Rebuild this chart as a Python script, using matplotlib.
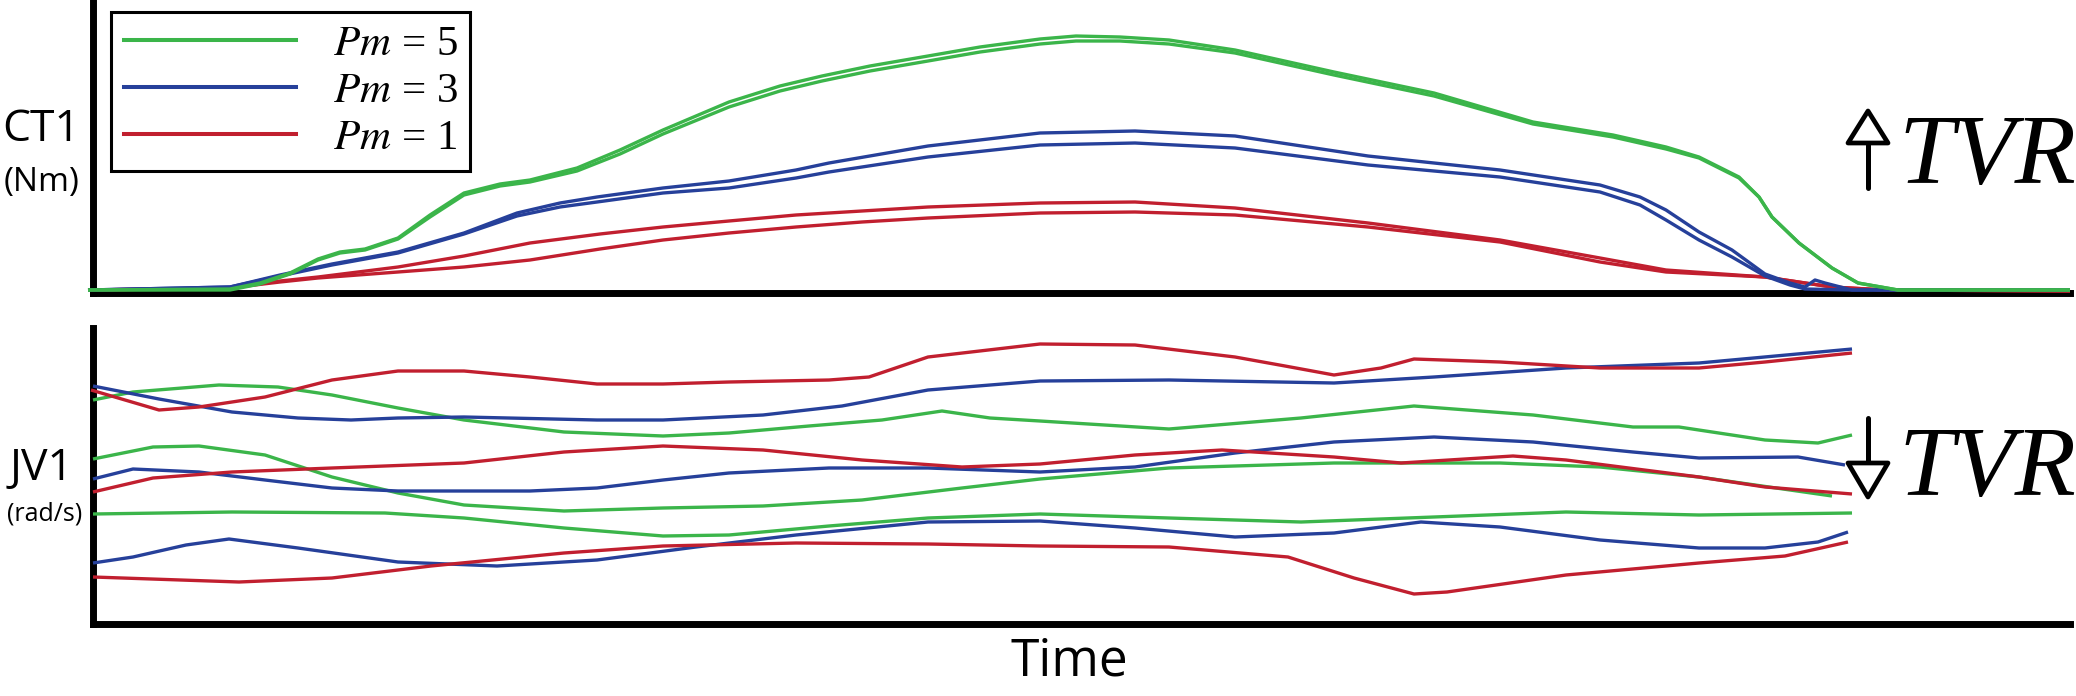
import matplotlib
matplotlib.use('Agg')
import matplotlib.pyplot as plt
from matplotlib.patches import Polygon
from matplotlib.lines import Line2D

plt.rcParams['font.family'] = ['Open Sans', 'DejaVu Sans']
plt.rcParams['mathtext.fontset'] = 'stix'

GREEN = '#3BB54A'
BLUE = '#26409A'
RED = '#C11F2F'

# ---------------- CT1 (top panel) ----------------
ct1_pm5_t = [-5, 137, 167, 197, 225, 247, 272, 305, 337, 371, 407, 437, 484, 527, 570, 636, 687, 729, 777, 835,
             887, 947, 983, 1027, 1076, 1142, 1241, 1341, 1440, 1520, 1573, 1606, 1646, 1666, 1679, 1706, 1739,
             1765, 1805, 1977]
ct1_pm5_a = [3, 4, 10, 20, 34, 41, 44, 55, 78, 100, 109, 113, 125, 143, 163, 191, 207, 217, 227, 237,
             246, 254, 257, 256, 253, 243, 221, 200, 171, 158, 146, 136, 116, 96, 76, 50, 25, 10, 3, 3]
ct1_pm5_b = [3, 3, 9, 19, 33, 40, 43, 54, 76, 98, 107, 111, 122, 139, 159, 186, 202, 212, 222, 232,
             241, 249, 252, 252, 249, 240, 218, 197, 169, 156, 144, 135, 115, 96, 76, 50, 25, 10, 3, 3]

ct1_pm3_a_t = [-5, 137, 187, 239, 305, 371, 424, 467, 504, 570, 636, 703, 736, 835, 947, 1042, 1142, 1275, 1407,
               1507, 1547, 1573, 1606, 1639, 1672, 1697, 1712, 1722, 1732, 1759, 1977]
ct1_pm3_a = [3, 6, 18, 29, 41, 60, 80, 90, 96, 105, 112, 123, 130, 147, 160, 162, 157, 137, 123, 108,
             96, 83, 61, 43, 19, 10, 6, 13, 10, 3, 3]
ct1_pm3_b_t = [-5, 137, 187, 239, 305, 371, 424, 467, 504, 570, 636, 703, 736, 835, 947, 1042, 1142, 1275, 1407,
               1507, 1547, 1573, 1606, 1639, 1672, 1697, 1712, 1759, 1977]
ct1_pm3_b = [3, 6, 17, 28, 40, 59, 77, 86, 91, 100, 105, 115, 121, 136, 148, 150, 145, 128, 116, 101,
             88, 73, 53, 36, 17, 8, 4, 3, 3]

ct1_pm1_t = [-5, 137, 187, 225, 305, 371, 437, 507, 570, 636, 703, 769, 835, 947, 1042, 1142, 1275, 1407, 1507,
             1573, 1672, 1739, 1792, 1977]
ct1_pm1_a = [3, 5, 12, 16, 26, 37, 50, 59, 66, 72, 78, 82, 86, 90, 91, 85, 70, 53, 35, 23, 16, 6, 3, 2]
ct1_pm1_b = [3, 5, 11, 15, 21, 26, 33, 44, 53, 60, 66, 71, 75, 80, 81, 78, 66, 51, 31, 21, 16, 6, 3, 2]

# ---------------- JV1 (bottom panel) ----------------
jv1_pm5_a_t = [0, 40, 126, 185, 239, 305, 371, 471, 570, 636, 716, 789, 849, 897, 947, 1076, 1208, 1321, 1440,
               1540, 1586, 1672, 1725, 1759]
jv1_pm5_a = [224, 232, 239, 237, 229, 216, 204, 192, 188, 191, 198, 204, 213, 206, 203, 195, 206, 218, 209,
             197, 197, 184, 181, 189]
jv1_pm3_a_t = [0, 66, 139, 205, 258, 305, 371, 504, 570, 670, 749, 835, 947, 1076, 1241, 1341, 1473, 1606, 1759]
jv1_pm3_a = [238, 225, 212, 206, 204, 206, 207, 204, 204, 209, 218, 234, 243, 244, 241, 247, 256, 261, 275]
jv1_pm1_a_t = [-2, 66, 106, 172, 239, 305, 371, 437, 504, 570, 636, 736, 776, 835, 947, 1042, 1142, 1192, 1241,
               1288, 1321, 1407, 1507, 1606, 1672, 1759]
jv1_pm1_a = [234, 214, 217, 227, 244, 253, 253, 247, 240, 240, 242, 244, 247, 267, 280, 279, 267, 258, 249,
             256, 265, 262, 256, 256, 262, 271]

jv1_pm5_b_t = [0, 60, 106, 172, 239, 305, 371, 471, 570, 670, 769, 869, 947, 1076, 1241, 1407, 1507, 1606, 1739]
jv1_pm5_b = [165, 177, 178, 169, 147, 131, 119, 113, 116, 118, 124, 136, 145, 156, 161, 161, 157, 147, 128]
jv1_pm3_b_t = [0, 40, 106, 172, 239, 305, 437, 504, 570, 636, 736, 835, 947, 1042, 1142, 1241, 1341, 1440, 1540,
               1606, 1705, 1752]
jv1_pm3_b = [145, 155, 152, 144, 136, 133, 133, 136, 144, 151, 156, 156, 152, 157, 171, 182, 187, 182, 172,
             166, 167, 159]
jv1_pm1_b_t = [0, 60, 139, 239, 371, 471, 570, 670, 769, 869, 947, 1042, 1129, 1241, 1308, 1420, 1473, 1606,
               1672, 1759]
jv1_pm1_b = [132, 146, 152, 156, 161, 172, 178, 174, 164, 157, 160, 169, 174, 167, 161, 168, 164, 147, 137, 130]

jv1_pm5_c_t = [0, 139, 292, 371, 471, 570, 636, 736, 835, 947, 1076, 1208, 1341, 1473, 1606, 1759]
jv1_pm5_c = [110, 112, 111, 106, 96, 88, 89, 98, 106, 110, 106, 102, 107, 112, 109, 111]
jv1_pm3_c_t = [0, 40, 93, 136, 205, 305, 404, 504, 603, 703, 835, 947, 1042, 1142, 1241, 1328, 1407, 1507, 1606,
               1672, 1725, 1755]
jv1_pm3_c = [61, 67, 79, 85, 76, 62, 58, 64, 77, 89, 102, 103, 96, 87, 91, 102, 97, 84, 76, 76, 82, 92]
jv1_pm1_c_t = [0, 146, 239, 338, 471, 570, 703, 835, 947, 1076, 1195, 1261, 1321, 1354, 1473, 1606, 1692, 1755]
jv1_pm1_c = [47, 42, 46, 58, 71, 78, 81, 80, 78, 77, 67, 46, 30, 32, 49, 61, 68, 82]

legend_labels = [r'$Pm$ = 5', r'$Pm$ = 3', r'$Pm$ = 1']

# ---------------- figure ----------------
W, H = 2076, 696
fig = plt.figure(figsize=(W / 100, H / 100), dpi=100)

ax1 = fig.add_axes([93 / W, 1 - 293 / H, 1977 / W, 293 / H])
ax2 = fig.add_axes([93 / W, 1 - 624 / H, 1977 / W, 296 / H])

for ax, top in ((ax1, 293), (ax2, 296)):
    ax.set_xlim(0, 1977)
    ax.set_ylim(0, top)
    ax.set_xticks([])
    ax.set_yticks([])
    ax.patch.set_alpha(0)
    for s in ('top', 'right'):
        ax.spines[s].set_visible(False)
    for s in ('left', 'bottom'):
        ax.spines[s].set_linewidth(5.0)
        ax.spines[s].set_color('black')
        ax.spines[s].set_capstyle('projecting')

lw_top = 2.4
kw = dict(solid_joinstyle='round', solid_capstyle='butt', clip_on=False, zorder=3)
ax1.plot(ct1_pm1_t, ct1_pm1_a, color=RED, lw=lw_top, **kw)
ax1.plot(ct1_pm1_t, ct1_pm1_b, color=RED, lw=lw_top, **kw)
ax1.plot(ct1_pm3_a_t, ct1_pm3_a, color=BLUE, lw=lw_top, **kw)
ax1.plot(ct1_pm3_b_t, ct1_pm3_b, color=BLUE, lw=lw_top, **kw)
ax1.plot(ct1_pm5_t, ct1_pm5_a, color=GREEN, lw=lw_top, **kw)
ax1.plot(ct1_pm5_t, ct1_pm5_b, color=GREEN, lw=lw_top, **kw)

lw_bot = 2.4
ax2.plot(jv1_pm5_a_t, jv1_pm5_a, color=GREEN, lw=lw_bot, **kw)
ax2.plot(jv1_pm5_b_t, jv1_pm5_b, color=GREEN, lw=lw_bot, **kw)
ax2.plot(jv1_pm5_c_t, jv1_pm5_c, color=GREEN, lw=lw_bot, **kw)
ax2.plot(jv1_pm3_a_t, jv1_pm3_a, color=BLUE, lw=lw_bot, **kw)
ax2.plot(jv1_pm3_b_t, jv1_pm3_b, color=BLUE, lw=lw_bot, **kw)
ax2.plot(jv1_pm3_c_t, jv1_pm3_c, color=BLUE, lw=lw_bot, **kw)
ax2.plot(jv1_pm1_a_t, jv1_pm1_a, color=RED, lw=lw_bot, **kw)
ax2.plot(jv1_pm1_b_t, jv1_pm1_b, color=RED, lw=lw_bot, **kw)
ax2.plot(jv1_pm1_c_t, jv1_pm1_c, color=RED, lw=lw_bot, **kw)

# legend
handles = [Line2D([], [], color=c, lw=2.9) for c in (GREEN, BLUE, RED)]
leg = ax1.legend(handles, legend_labels, loc='upper left',
                 bbox_to_anchor=(111 / W, 1 - 12 / H), bbox_transform=fig.transFigure,
                 borderaxespad=0, prop={'family': ['Liberation Serif', 'DejaVu Serif'], 'size': 31},
                 handlelength=4.0, handletextpad=0.85,
                 borderpad=0.3, labelspacing=0.18, fancybox=False, framealpha=1,
                 edgecolor='black')
leg.get_frame().set_linewidth(2.2)

# overlay for labels and annotations (pixel coordinates)
ov = fig.add_axes([0, 0, 1, 1])
ov.set_xlim(0, W)
ov.set_ylim(H, 0)
ov.axis('off')
ov.patch.set_alpha(0)

ov.text(41, 130, 'CT1', fontsize=32, ha='center', va='center')
ov.text(42, 183, '(Nm)', fontsize=24, ha='center', va='center')
ov.text(42, 469, 'JV1', fontsize=32, ha='center', va='center')
ov.text(45, 514, '(rad/s)', fontsize=18, ha='center', va='center')
ov.text(1069, 662, 'Time', fontsize=37, ha='center', va='center')

serif = ['Liberation Serif', 'DejaVu Serif']
ov.text(1898, 183, 'TVR', fontsize=72, family=serif, style='italic', ha='left', va='baseline')
ov.text(1898, 495, 'TVR', fontsize=72, family=serif, style='italic', ha='left', va='baseline')

# up arrow
ov.plot([1868, 1868], [145, 188], color='black', lw=3.6, solid_capstyle='round')
ov.add_patch(Polygon([[1868, 111], [1848, 143], [1888, 143]], closed=True, fc='white', ec='black',
                     lw=3.4, joinstyle='round'))
# down arrow
ov.plot([1868, 1868], [418, 461], color='black', lw=3.6, solid_capstyle='round')
ov.add_patch(Polygon([[1868, 497], [1848, 463], [1888, 463]], closed=True, fc='white', ec='black',
                     lw=3.4, joinstyle='round'))

fig.savefig('out.png', dpi=100)
